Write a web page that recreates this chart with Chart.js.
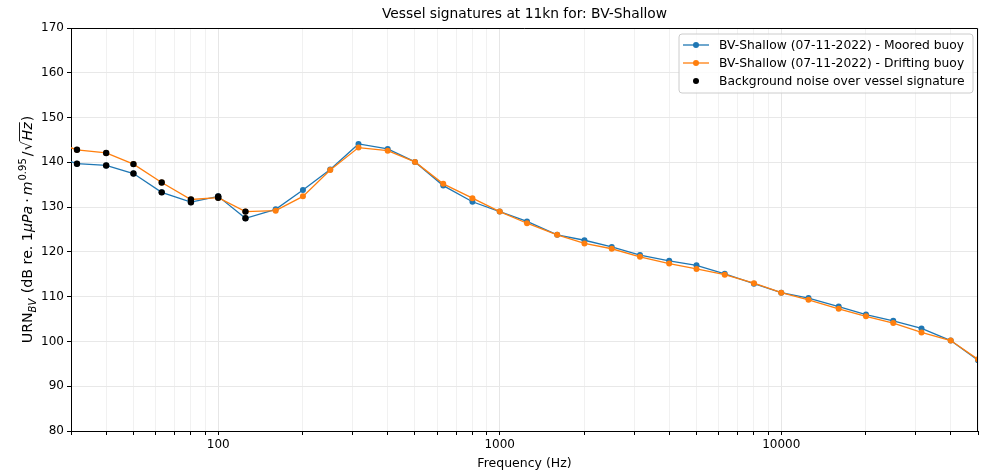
<!DOCTYPE html>
<html lang="en">
<head>
  <meta charset="UTF-8">
  <title>Vessel signatures at 11kn for: BV-Shallow</title>
  <style>
    body { margin: 0; background: #fff; }
    #wrap { width: 988px; height: 474px; }
  </style>
</head>
<body>
  <div id="wrap"><canvas id="urnChart" width="988" height="474"></canvas></div>

  <script src="https://cdn.jsdelivr.net/npm/chart.js"></script>
  <script>
    // third-octave band centre frequencies (Hz)
    const freqs = [25, 31.5, 40, 50, 63, 80, 100, 125, 160, 200, 250, 315, 400, 500, 630, 800,
      1000, 1250, 1600, 2000, 2500, 3150, 4000, 5000, 6300, 8000, 10000, 12500, 16000, 20000,
      25000, 31500, 40000, 50000];

    const mooredBuoy = [141.9, 139.7, 139.3, 137.5, 133.3, 131.1, 132.4, 127.5, 129.5, 133.8, 138.4,
      144.1, 143.0, 140.1, 134.8, 131.2, 129.0, 126.8, 123.8, 122.6, 121.1, 119.3, 118.0, 117.0,
      115.1, 112.9, 110.9, 109.7, 107.8, 106.0, 104.6, 102.9, 100.2, 95.8];

    const driftingBuoy = [145.0, 142.8, 142.1, 139.6, 135.5, 131.7, 132.1, 129.0, 129.2, 132.4, 138.3,
      143.3, 142.6, 140.1, 135.2, 132.0, 129.0, 126.4, 123.8, 121.9, 120.7, 118.9, 117.4, 116.2,
      114.9, 113.0, 110.9, 109.3, 107.3, 105.6, 104.1, 102.0, 100.2, 96.0];

    // bands where background noise is above the vessel signature
    const noiseBands = [25, 31.5, 40, 50, 63, 80, 100, 125];

    const xTickValues = [30, 40, 50, 60, 70, 80, 90, 100, 200, 300, 400, 500, 600, 700, 800, 900,
      1000, 2000, 3000, 4000, 5000, 6000, 7000, 8000, 9000, 10000, 20000, 30000, 40000, 50000];
    const xTickLabels = [100, 1000, 10000];

    const labelMoored = 'BV-Shallow (07-11-2022) - Moored buoy';
    const labelDrifting = 'BV-Shallow (07-11-2022) - Drifting buoy';
    const labelNoise = 'Background noise over vessel signature';

    const BLUE = '#1f77b4';
    const ORANGE = '#ff7f0e';
    const FONT = 'DejaVu Sans';

    const toPoints = arr => freqs.map((f, i) => ({ x: f, y: arr[i] }));
    const noisePoints = [];
    noiseBands.forEach(f => {
      const i = freqs.indexOf(f);
      noisePoints.push({ x: f, y: mooredBuoy[i] });
      noisePoints.push({ x: f, y: driftingBuoy[i] });
    });

    // title, axis labels, frame and legend drawn by hand (matplotlib look)
    const decorations = {
      id: 'decorations',
      afterDraw(chart) {
        const ctx = chart.ctx;
        const a = chart.chartArea;
        ctx.save();

        // frame top + right
        ctx.strokeStyle = '#000';
        ctx.lineWidth = 1;
        ctx.beginPath();
        ctx.moveTo(a.left, a.top + 0.5);
        ctx.lineTo(a.right - 0.5, a.top + 0.5);
        ctx.lineTo(a.right - 0.5, a.bottom);
        ctx.stroke();

        ctx.fillStyle = '#000';
        ctx.textAlign = 'center';
        ctx.textBaseline = 'middle';
        ctx.font = '13.8px "' + FONT + '"';
        ctx.fillText('Vessel signatures at 11kn for: BV-Shallow', (a.left + a.right) / 2, 14);

        ctx.font = '12.5px "' + FONT + '"';
        ctx.fillText('Frequency (Hz)', (a.left + a.right) / 2, 464);

        // y label with sub/superscripts (mathtext style spacing)
        const segs = [
          { t: 'URN' },
          { t: 'BV', size: 10, dy: 3.5, italic: true, gap: 1 },
          { t: ' (dB re. 1' },
          { t: 'μPa', italic: true, gap: 3 },
          { t: '·', gap: 3 },
          { t: 'm', italic: true, gap: 1 },
          { t: '0.95', size: 10, dy: -6, gap: 2 },
          { t: '/', gap: 1 },
          { t: '√', gap: 1 },
          { t: 'Hz', italic: true, over: true, gap: 1 },
          { t: ')' }
        ];
        const fontOf = s => (s.italic ? 'italic ' : '') + (s.size || 14.2) + 'px "' + FONT + '"';
        let total = 0;
        segs.forEach(s => {
          ctx.font = fontOf(s);
          s.w = ctx.measureText(s.t).width;
          total += s.w + (s.gap || 0);
        });
        ctx.translate(27, (a.top + a.bottom) / 2);
        ctx.rotate(-Math.PI / 2);
        ctx.textAlign = 'left';
        ctx.textBaseline = 'alphabetic';
        let x = -total / 2;
        segs.forEach(s => {
          ctx.font = fontOf(s);
          ctx.fillText(s.t, x, 5 + (s.dy || 0));
          if (s.over) {
            ctx.beginPath();
            ctx.lineWidth = 0.9;
            ctx.moveTo(x - 1, -7.5);
            ctx.lineTo(x + s.w, -7.5);
            ctx.stroke();
          }
          x += s.w + (s.gap || 0);
        });
        ctx.restore();

        // legend box
        ctx.save();
        const bx = 679, by = 34, bw = 294, bh = 59, r = 3;
        ctx.beginPath();
        ctx.moveTo(bx + r, by);
        ctx.arcTo(bx + bw, by, bx + bw, by + bh, r);
        ctx.arcTo(bx + bw, by + bh, bx, by + bh, r);
        ctx.arcTo(bx, by + bh, bx, by, r);
        ctx.arcTo(bx, by, bx + bw, by, r);
        ctx.closePath();
        ctx.fillStyle = 'rgba(255,255,255,0.8)';
        ctx.fill();
        ctx.strokeStyle = '#cccccc';
        ctx.lineWidth = 1;
        ctx.stroke();

        const rows = [
          { label: labelMoored, color: BLUE, line: true, y: 45 },
          { label: labelDrifting, color: ORANGE, line: true, y: 63 },
          { label: labelNoise, color: '#000', line: false, y: 81 }
        ];
        ctx.font = '12.3px "' + FONT + '"';
        ctx.textAlign = 'left';
        ctx.textBaseline = 'middle';
        rows.forEach(row => {
          if (row.line) {
            ctx.strokeStyle = row.color;
            ctx.lineWidth = 1.3;
            ctx.beginPath();
            ctx.moveTo(683, row.y);
            ctx.lineTo(709, row.y);
            ctx.stroke();
          }
          ctx.fillStyle = row.color;
          ctx.beginPath();
          ctx.arc(696, row.y, 3, 0, Math.PI * 2);
          ctx.fill();
          ctx.fillStyle = '#000';
          ctx.fillText(row.label, 719, row.y + 0.5);
        });
        ctx.restore();
      }
    };

    const ctx = document.getElementById('urnChart').getContext('2d');
    const urnChart = new Chart(ctx, {
      type: 'line',
      data: {
        datasets: [
          {
            label: labelMoored,
            data: toPoints(mooredBuoy),
            borderColor: BLUE,
            backgroundColor: BLUE,
            borderWidth: 1.3,
            pointRadius: 3,
            pointBorderWidth: 0,
            pointHoverRadius: 3,
            tension: 0,
            clip: 0,
            order: 3
          },
          {
            label: labelDrifting,
            data: toPoints(driftingBuoy),
            borderColor: ORANGE,
            backgroundColor: ORANGE,
            borderWidth: 1.3,
            pointRadius: 3,
            pointBorderWidth: 0,
            pointHoverRadius: 3,
            tension: 0,
            clip: 0,
            order: 2
          },
          {
            label: labelNoise,
            data: noisePoints,
            showLine: false,
            borderColor: '#000',
            backgroundColor: '#000',
            pointRadius: 3.2,
            pointBorderWidth: 0,
            clip: 0,
            order: 1
          }
        ]
      },
      options: {
        responsive: false,
        animation: false,
        devicePixelRatio: 1,
        layout: { padding: { left: 0, right: 10, top: 28, bottom: 0 } },
        plugins: {
          legend: { display: false },
          title: { display: false },
          tooltip: { enabled: false }
        },
        scales: {
          x: {
            type: 'logarithmic',
            min: 30,
            max: 50000,
            afterBuildTicks: scale => {
              scale.ticks = xTickValues.map(v => ({ value: v }));
            },
            afterFit: scale => { scale.height = 43; },
            ticks: {
              autoSkip: false,
              maxRotation: 0,
              padding: 3,
              color: '#000',
              font: { family: FONT, size: 12 },
              callback: v => xTickLabels.includes(v) ? String(v) : ''
            },
            grid: {
              color: c => xTickLabels.includes(c.tick && c.tick.value) ? '#e6e6e6' : '#f1f1f1',
              tickColor: '#000',
              tickLength: 4
            },
            border: { display: true, color: '#000', width: 1 }
          },
          y: {
            min: 80,
            max: 170,
            afterFit: scale => { scale.width = 71; },
            ticks: {
              stepSize: 10,
              padding: 3,
              color: '#000',
              font: { family: FONT, size: 12 }
            },
            grid: {
              color: '#e8e8e8',
              tickColor: '#000',
              tickLength: 4
            },
            border: { display: true, color: '#000', width: 1 }
          }
        }
      },
      plugins: [decorations]
    });
  </script>
</body>
</html>
